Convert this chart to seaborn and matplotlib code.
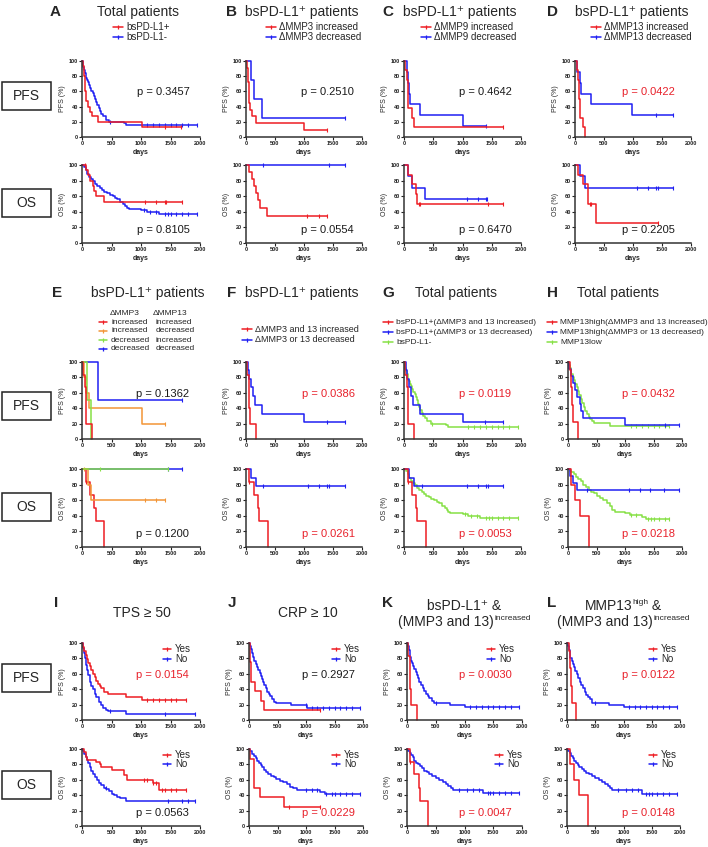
import numpy as np
import matplotlib.pyplot as plt
import seaborn as sns
from matplotlib.lines import Line2D
from matplotlib.patches import Rectangle

sns.set_theme(style="ticks")
plt.rcParams["font.family"] = ["Liberation Sans", "DejaVu Sans"]

W, H = 708, 847
RED, BLUE, ORANGE, GREEN = "#ee1d23", "#1f1ff2", "#f39536", "#86e045"
P_RED = "#e8212b"

# ──────────── KM data: step times (days), survival (%), censor times ────────────
# bsPD-L1+ / bsPD-L1- (total patients)
pos_pfs_t = [0, 20, 30, 40, 45, 50, 55, 60, 70, 100, 130, 165, 270, 1020, 1680]
pos_pfs_s = [100, 93, 87, 80, 73, 67, 60, 53, 47, 40, 33, 27, 20, 13, 13]
pos_pfs_c = [1400, 1680]
neg_pfs_t = [0, 10, 20, 30, 45, 60, 75, 90, 105, 120, 140, 160, 180, 200, 220, 240, 260, 280, 300, 330, 360, 400, 460, 720, 750, 1950]
neg_pfs_s = [100, 96, 92, 88, 84, 80, 77, 75, 72, 69, 65, 61, 58, 54, 50, 46, 42, 38, 34, 30, 27, 23, 20, 18, 16, 16]
neg_pfs_c = [480, 1100, 1200, 1300, 1400, 1500, 1600, 1700, 1800, 1950]
pos_os_t = [0, 60, 100, 140, 180, 205, 240, 370, 1690]
pos_os_s = [100, 93, 87, 80, 73, 67, 60, 52, 52]
pos_os_c = [50, 1060, 1260, 1400, 1420, 1690]
neg_os_t = [0, 30, 60, 90, 120, 150, 190, 220, 260, 300, 340, 380, 420, 470, 520, 560, 600, 650, 700, 730, 760, 790, 1000, 1100, 1300, 1950]
neg_os_s = [100, 97, 93, 89, 85, 82, 79, 76, 73, 71, 68, 66, 64, 62, 60, 58, 56, 53, 50, 47, 45, 43, 42, 40, 37, 37]
neg_os_c = [1050, 1150, 1250, 1400, 1450, 1500, 1600, 1700, 1800, 1950]

# ΔMMP3 (bsPD-L1+)
mmp3_inc_pfs_t = [0, 20, 30, 40, 45, 50, 55, 75, 105, 165, 1005, 1400]
mmp3_inc_pfs_s = [100, 91, 82, 73, 64, 55, 45, 36, 27, 18, 9, 9]
mmp3_inc_pfs_c = [1400]
mmp3_dec_pfs_t = [0, 80, 140, 280, 1700]
mmp3_dec_pfs_s = [100, 75, 50, 25, 25]
mmp3_dec_pfs_c = [1700]
mmp3_inc_os_t = [0, 55, 100, 140, 175, 215, 240, 370, 1400]
mmp3_inc_os_s = [100, 91, 82, 73, 64, 55, 45, 35, 35]
mmp3_inc_os_c = [1060, 1250, 1400]
mmp3_dec_os_t = [0, 1700]
mmp3_dec_os_s = [100, 100]
mmp3_dec_os_c = [300, 1430, 1700]

# ΔMMP9 (bsPD-L1+)
mmp9_inc_pfs_t = [0, 20, 45, 60, 75, 140, 165, 1690]
mmp9_inc_pfs_s = [100, 87.5, 75, 50, 37.5, 25, 12.5, 12.5]
mmp9_inc_pfs_c = [1690]
mmp9_dec_pfs_t = [0, 45, 60, 80, 110, 270, 1010, 1400]
mmp9_dec_pfs_s = [100, 86, 71, 57, 43, 29, 14, 14]
mmp9_dec_pfs_c = [1400]
mmp9_inc_os_t = [0, 70, 140, 200, 225, 1690]
mmp9_inc_os_s = [100, 87.5, 75, 62.5, 50, 50]
mmp9_inc_os_c = [250, 275, 1440, 1690]
mmp9_dec_os_t = [0, 70, 140, 365, 1420]
mmp9_dec_os_s = [100, 86, 71, 57, 57]
mmp9_dec_os_c = [1080, 1260, 1400, 1420]

# ΔMMP13 (bsPD-L1+)
mmp13_inc_pfs_t = [0, 30, 50, 65, 80, 145, 168]
mmp13_inc_pfs_s = [100, 87.5, 75, 50, 25, 12.5, 0]
mmp13_inc_pfs_c = []
mmp13_dec_pfs_t = [0, 35, 80, 112, 275, 990, 1690]
mmp13_dec_pfs_s = [100, 86, 71, 57, 43, 29, 29]
mmp13_dec_pfs_c = [1390, 1690]
mmp13_inc_os_t = [0, 50, 135, 225, 370, 1430]
mmp13_inc_os_s = [100, 87.5, 75, 50, 25, 25]
mmp13_inc_os_c = [250, 275, 1430]
mmp13_dec_os_t = [0, 90, 180, 1690]
mmp13_dec_os_s = [100, 86, 71, 71]
mmp13_dec_os_c = [1070, 1260, 1400, 1430, 1690]

# ΔMMP3 x ΔMMP13 combinations (bsPD-L1+)
both_inc_pfs_t = [0, 25, 45, 60, 72, 170]
both_inc_pfs_s = [100, 83, 67, 40, 20, 0]
both_inc_pfs_c = []
both_inc_os_t = [0, 60, 130, 210, 230, 372]
both_inc_os_s = [100, 83, 67, 50, 33, 0]
both_inc_os_c = [60]
inc_dec_pfs_t = [0, 40, 70, 120, 1010, 1400]
inc_dec_pfs_s = [100, 80, 60, 40, 20, 20]
inc_dec_pfs_c = [1400]
inc_dec_os_t = [0, 100, 160, 1400]
inc_dec_os_s = [100, 80, 60, 60]
inc_dec_os_c = [40, 1060, 1260, 1400]
dec_inc_pfs_t = [0, 80, 150]
dec_inc_pfs_s = [100, 50, 0]
dec_inc_pfs_c = []
dec_inc_os_t = [0, 1450]
dec_inc_os_s = [100, 100]
dec_inc_os_c = [300, 1450]
dec_dec_pfs_t = [0, 275, 1700]
dec_dec_pfs_s = [100, 50, 50]
dec_dec_pfs_c = [1700]
dec_dec_os_t = [0, 1700]
dec_dec_os_s = [100, 100]
dec_dec_os_c = [1450, 1700]
either_dec_pfs_t = [0, 30, 55, 85, 125, 155, 280, 1005, 1700]
either_dec_pfs_s = [100, 89, 78, 67, 56, 44, 33, 22, 22]
either_dec_pfs_c = [1390, 1700]
either_dec_os_t = [0, 85, 170, 1700]
either_dec_os_s = [100, 89, 78, 78]
either_dec_os_c = [300, 1070, 1260, 1400, 1430, 1700]

# MMP13 high / low (total patients)
hi_inc_pfs_t = [0, 35, 55, 75, 85, 167]
hi_inc_pfs_s = [100, 89, 67, 44, 22, 0]
hi_inc_pfs_c = []
hi_inc_os_t = [0, 55, 130, 215, 375]
hi_inc_os_s = [100, 80, 60, 40, 0]
hi_inc_os_c = []
hi_dec_pfs_t = [0, 25, 50, 80, 125, 165, 210, 230, 270, 1005, 1950]
hi_dec_pfs_s = [100, 91, 82, 73, 64, 55, 45, 36, 27, 18, 18]
hi_dec_pfs_c = [1700, 1950]
hi_dec_os_t = [0, 40, 85, 165, 1950]
hi_dec_os_s = [100, 91, 82, 73, 73]
hi_dec_os_c = [330, 1070, 1260, 1430, 1690, 1950]
low_pfs_t = [0, 15, 30, 45, 60, 80, 100, 125, 150, 175, 200, 225, 250, 275, 300, 330, 360, 390, 420, 460, 740, 1780]
low_pfs_s = [100, 96, 92, 88, 84, 80, 76, 72, 67, 62, 57, 52, 47, 42, 37, 33, 29, 26, 23, 21, 17, 17]
low_pfs_c = [1100, 1200, 1300, 1400, 1500, 1600, 1700, 1780]
low_os_t = [0, 30, 60, 100, 140, 180, 220, 270, 320, 360, 400, 450, 500, 560, 620, 680, 730, 780, 830, 1000, 1080, 1300, 1360, 1780]
low_os_s = [100, 98, 96, 93, 90, 87, 84, 80, 77, 73, 71, 69, 66, 63, 60, 57, 53, 48, 45, 43, 41, 38, 36, 36]
low_os_c = [1100, 1200, 1400, 1450, 1500, 1600, 1700, 1780]

# TPS >= 50
tps_yes_pfs_t = [0, 20, 40, 60, 80, 105, 130, 160, 190, 215, 245, 270, 300, 330, 380, 440, 740, 1010, 1760]
tps_yes_pfs_s = [100, 95, 89, 84, 79, 74, 70, 65, 60, 56, 51, 47, 44, 41, 37, 34, 30, 26, 26]
tps_yes_pfs_c = [1100, 1200, 1300, 1400, 1500, 1600, 1760]
tps_no_pfs_t = [0, 15, 30, 45, 60, 80, 100, 130, 160, 190, 215, 240, 280, 330, 360, 400, 440, 740, 1910]
tps_no_pfs_s = [100, 94, 87, 80, 72, 65, 58, 50, 44, 40, 34, 30, 24, 20, 16, 13, 12, 8, 8]
tps_no_pfs_c = [470, 1400, 1910]
tps_yes_os_t = [0, 30, 60, 80, 240, 300, 330, 500, 720, 760, 1200, 1310, 1760]
tps_yes_os_s = [100, 96, 89, 86, 83, 80, 77, 73, 66, 60, 56, 47, 47]
tps_yes_os_c = [1050, 1100, 1200, 1250, 1350, 1400, 1500, 1600, 1760]
tps_no_os_t = [0, 20, 40, 60, 80, 100, 130, 160, 190, 215, 250, 290, 330, 370, 410, 460, 510, 550, 590, 650, 740, 1910]
tps_no_os_s = [100, 97, 93, 89, 86, 82, 77, 72, 68, 64, 60, 56, 53, 50, 48, 45, 42, 40, 38, 36, 33, 33]
tps_no_os_c = [400, 1450, 1700, 1800, 1910]

# CRP >= 10
crp_yes_pfs_t = [0, 10, 25, 40, 110, 210, 270, 1240]
crp_yes_pfs_s = [100, 87.5, 75, 50, 37.5, 25, 12.5, 12.5]
crp_yes_pfs_c = [1240]
crp_no_pfs_t = [0, 15, 30, 50, 70, 95, 120, 140, 165, 190, 210, 230, 250, 270, 295, 320, 345, 370, 400, 430, 470, 740, 1010, 1950]
crp_no_pfs_s = [100, 96, 92, 87, 82, 77, 73, 69, 65, 61, 57, 53, 49, 45, 41, 37, 34, 31, 27, 24, 22, 19, 16, 16]
crp_no_pfs_c = [1000, 1100, 1200, 1300, 1400, 1500, 1600, 1700, 1800, 1950]
crp_yes_os_t = [0, 20, 85, 190, 610, 1250]
crp_yes_os_s = [100, 87.5, 50, 37.5, 25, 25]
crp_yes_os_c = [700, 1250]
crp_no_os_t = [0, 25, 55, 85, 115, 145, 175, 205, 235, 265, 300, 340, 380, 430, 480, 540, 600, 660, 720, 780, 850, 1250, 1330, 1950]
crp_no_os_s = [100, 97, 94, 91, 88, 85, 82, 79, 76, 73, 70, 67, 65, 63, 61, 59, 57, 54, 51, 49, 47, 44, 42, 42]
crp_no_os_c = [1000, 1100, 1200, 1350, 1450, 1500, 1600, 1700, 1800, 1950]

# bsPD-L1+ & (MMP3 and 13) increased : No
k_no_pfs_t = [0, 15, 30, 45, 60, 75, 90, 110, 130, 150, 170, 190, 215, 240, 270, 300, 330, 360, 390, 430, 470, 740, 1010, 1950]
k_no_pfs_s = [100, 96, 91, 87, 82, 77, 74, 70, 66, 62, 58, 54, 50, 46, 42, 38, 34, 31, 28, 25, 22, 19, 17, 17]
k_no_pfs_c = [500, 1100, 1200, 1300, 1400, 1500, 1600, 1700, 1800, 1950]
k_no_os_t = [0, 20, 45, 75, 100, 130, 160, 190, 220, 260, 300, 340, 390, 440, 500, 560, 620, 680, 720, 760, 800, 1320, 1950]
k_no_os_s = [100, 98, 95, 92, 89, 85, 82, 80, 78, 75, 72, 70, 67, 65, 62, 60, 57, 54, 52, 50, 47, 43, 43]
k_no_os_c = [900, 1050, 1150, 1250, 1400, 1450, 1500, 1600, 1700, 1800, 1950]

# MMP13high & (MMP3 and 13) increased : No
l_no_pfs_t = [0, 15, 30, 45, 60, 80, 100, 125, 150, 175, 200, 225, 250, 280, 310, 340, 370, 400, 450, 740, 1010, 1950]
l_no_pfs_s = [100, 96, 91, 86, 81, 77, 73, 69, 64, 60, 55, 50, 46, 41, 37, 33, 30, 27, 22, 20, 17, 17]
l_no_pfs_c = [500, 1100, 1200, 1300, 1400, 1500, 1600, 1700, 1800, 1950]
l_no_os_t = [0, 20, 45, 75, 100, 130, 160, 190, 220, 260, 300, 340, 390, 440, 500, 560, 620, 680, 720, 760, 800, 1320, 1950]
l_no_os_s = [100, 98, 95, 91, 88, 85, 82, 79, 77, 74, 72, 69, 67, 65, 62, 60, 57, 54, 52, 49, 47, 42, 42]
l_no_os_c = [900, 1050, 1150, 1250, 1400, 1450, 1500, 1600, 1700, 1800, 1950]


def km(name):
    g = globals()
    return g[name + "_t"], g[name + "_s"], g[name + "_c"]


# ──────────── layout (pixels of the 708x847 canvas) ────────────
ROWS = {1: (61, 76, 165, 78), 2: (362, 77, 469, 78), 3: (643, 77, 749, 77)}
BOXES = {1: (82, 189), 2: (392, 493), 3: (664, 771)}

PANELS = [
    dict(L="A", row=1, x0=82, w=118, lx=55, title="Total patients", tx=138,
         pfs=[("neg_pfs", BLUE), ("pos_pfs", RED)], os=[("neg_os", BLUE), ("pos_os", RED)],
         p=(("p = 0.3457", "k"), ("p = 0.8105", "k")), px=137,
         leg=dict(x=113, ys=[27, 37], fs=7, items=[("bsPD-L1+", RED), ("bsPD-L1-", BLUE)])),
    dict(L="B", row=1, x0=246, w=116, lx=232, title="bsPD-L1⁺ patients", tx=302,
         pfs=[("mmp3_dec_pfs", BLUE), ("mmp3_inc_pfs", RED)], os=[("mmp3_dec_os", BLUE), ("mmp3_inc_os", RED)],
         p=(("p = 0.2510", "k"), ("p = 0.0554", "k")), px=301,
         leg=dict(x=266, ys=[27, 37], fs=7, items=[("ΔMMP3 increased", RED), ("ΔMMP3 decreased", BLUE)])),
    dict(L="C", row=1, x0=404, w=117, lx=388, title="bsPD-L1⁺ patients", tx=460,
         pfs=[("mmp9_dec_pfs", BLUE), ("mmp9_inc_pfs", RED)], os=[("mmp9_dec_os", BLUE), ("mmp9_inc_os", RED)],
         p=(("p = 0.4642", "k"), ("p = 0.6470", "k")), px=459,
         leg=dict(x=421, ys=[27, 37], fs=7, items=[("ΔMMP9 increased", RED), ("ΔMMP9 decreased", BLUE)])),
    dict(L="D", row=1, x0=575, w=116, lx=552, title="bsPD-L1⁺ patients", tx=632,
         pfs=[("mmp13_dec_pfs", BLUE), ("mmp13_inc_pfs", RED)], os=[("mmp13_dec_os", BLUE), ("mmp13_inc_os", RED)],
         p=(("p = 0.0422", P_RED), ("p = 0.2205", "k")), px=622,
         leg=dict(x=591, ys=[27, 37], fs=7, items=[("ΔMMP13 increased", RED), ("ΔMMP13 decreased", BLUE)])),
    dict(L="E", row=2, x0=82, w=118, lx=57, title="bsPD-L1⁺ patients", tx=148,
         pfs=[("dec_dec_pfs", BLUE), ("inc_dec_pfs", ORANGE), ("dec_inc_pfs", GREEN), ("both_inc_pfs", RED)],
         os=[("dec_dec_os", BLUE), ("both_inc_os", RED), ("inc_dec_os", ORANGE), ("dec_inc_os", GREEN)],
         p=(("p = 0.1362", "k"), ("p = 0.1200", "k")), px=136, leg=None),
    dict(L="F", row=2, x0=246, w=116, lx=232, title="bsPD-L1⁺ patients", tx=302,
         pfs=[("either_dec_pfs", BLUE), ("both_inc_pfs", RED)], os=[("either_dec_os", BLUE), ("both_inc_os", RED)],
         p=(("p = 0.0386", P_RED), ("p = 0.0261", P_RED)), px=302,
         leg=dict(x=242, ys=[329, 340], fs=6.5, items=[("ΔMMP3 and 13 increased", RED), ("ΔMMP3 or 13 decreased", BLUE)])),
    dict(L="G", row=2, x0=404, w=117, lx=388, title="Total patients", tx=456,
         pfs=[("neg_pfs", GREEN), ("either_dec_pfs", BLUE), ("both_inc_pfs", RED)],
         os=[("neg_os", GREEN), ("either_dec_os", BLUE), ("both_inc_os", RED)],
         p=(("p = 0.0119", P_RED), ("p = 0.0053", P_RED)), px=459,
         leg=dict(x=383, ys=[322, 332, 342], fs=6, items=[("bsPD-L1+(ΔMMP3 and 13 increased)", RED),
                                                           ("bsPD-L1+(ΔMMP3 or 13 decreased)", BLUE), ("bsPD-L1-", GREEN)])),
    dict(L="H", row=2, x0=568, w=114, lx=552, title="Total patients", tx=618,
         pfs=[("low_pfs", GREEN), ("hi_dec_pfs", BLUE), ("hi_inc_pfs", RED)],
         os=[("low_os", GREEN), ("hi_dec_os", BLUE), ("hi_inc_os", RED)],
         p=(("p = 0.0432", P_RED), ("p = 0.0218", P_RED)), px=622,
         leg=dict(x=547, ys=[322, 332, 342], fs=6, items=[("MMP13high(ΔMMP3 and 13 increased)", RED),
                                                           ("MMP13high(ΔMMP3 or 13 decreased)", BLUE), ("MMP13low", GREEN)])),
    dict(L="I", row=3, x0=82, w=118, lx=56, title=[[("TPS ≥ 50", 0)]], tx=142,
         pfs=[("tps_no_pfs", BLUE), ("tps_yes_pfs", RED)], os=[("tps_no_os", BLUE), ("tps_yes_os", RED)],
         p=(("p = 0.0154", P_RED), ("p = 0.0563", "k")), px=136, yn=(163, 163)),
    dict(L="J", row=3, x0=249, w=114, lx=232, title=[[("CRP ≥ 10", 0)]], tx=308,
         pfs=[("crp_no_pfs", BLUE), ("crp_yes_pfs", RED)], os=[("crp_no_os", BLUE), ("crp_yes_os", RED)],
         p=(("p = 0.2927", "k"), ("p = 0.0229", P_RED)), px=302, yn=(332, 332)),
    dict(L="K", row=3, x0=407, w=115, lx=388, tx=464,
         title=[[("bsPD-L1⁺ &", 0)], [("(MMP3 and 13)", 0), ("increased", 1)]],
         pfs=[("k_no_pfs", BLUE), ("both_inc_pfs", RED)], os=[("k_no_os", BLUE), ("both_inc_os", RED)],
         p=(("p = 0.0030", P_RED), ("p = 0.0047", P_RED)), px=459, yn=(487, 495)),
    dict(L="L", row=3, x0=567, w=113, lx=552, tx=623,
         title=[[("MMP13", 0), ("high", 1), (" &", 0)], [("(MMP3 and 13)", 0), ("increased", 1)]],
         pfs=[("l_no_pfs", BLUE), ("hi_inc_pfs", RED)], os=[("l_no_os", BLUE), ("hi_inc_os", RED)],
         p=(("p = 0.0122", P_RED), ("p = 0.0148", P_RED)), px=622, yn=(649, 649)),
]

fig = plt.figure(figsize=(W / 100, H / 100), dpi=100)
renderer = fig.canvas.get_renderer()


def fxy(x, y):
    return x / W, 1 - y / H


def ftext(x, y, s, **kw):
    return fig.text(*fxy(x, y), s, **kw)


def sup_line(cx, base, parts, fs=10, sfs=6):
    # one centred title line made of normal and raised (superscript) pieces
    objs = [ftext(0, base, s, fontsize=sfs if sup else fs, va="baseline") for s, sup in parts]
    widths = [o.get_window_extent(renderer).width for o in objs]
    x = cx - sum(widths) / 2
    for o, (s, sup), wd in zip(objs, parts, widths):
        o.set_position(fxy(x + (0.5 if sup else 0), base - (6 if sup else 0)))
        x += wd


def handle(x, y, color, length=10):
    (x1, yy), (x2, _) = fxy(x, y), fxy(x + length, y)
    fig.add_artist(Line2D([x1, x2], [yy, yy], color=color, lw=1.1, transform=fig.transFigure))
    fig.add_artist(Line2D([(x1 + x2) / 2], [yy], color=color, marker="|", ms=3.5, mew=0.9,
                          ls="none", transform=fig.transFigure))


def draw_km(ax, name, color):
    t, s, c = km(name)
    sns.lineplot(x=t, y=s, ax=ax, color=color, linewidth=1.1, drawstyle="steps-post",
                 estimator=None, sort=False, legend=False, clip_on=False)
    if c:
        idx = np.searchsorted(t, c, side="right") - 1
        ax.plot(c, np.asarray(s, float)[idx], ls="none", marker="|", ms=3.2, mew=0.8,
                color=color, clip_on=False)


def style_ax(ax, kind):
    ax.set_xlim(0, 2000)
    ax.set_ylim(0, 100)
    ax.set_xticks([0, 500, 1000, 1500, 2000])
    ax.set_yticks([0, 20, 40, 60, 80, 100])
    ax.set_facecolor("none")
    sns.despine(ax=ax)
    for sp in ("left", "bottom"):
        ax.spines[sp].set_linewidth(1.1)
        ax.spines[sp].set_color("#333333")
    ax.tick_params(length=2, width=0.8, labelsize=4, pad=1, colors="#222222")
    ax.set_xlabel("days", fontsize=5, fontweight="bold", labelpad=2)
    ax.set_ylabel(f"{kind} (%)", fontsize=5, labelpad=2)
    for lb in ax.get_xticklabels() + ax.get_yticklabels():
        lb.set_fontweight("bold")


# ──────────── PFS / OS boxes ────────────
for row, (yp, yo) in BOXES.items():
    for y0, lab in ((yp, "PFS"), (yo, "OS")):
        x1, y1 = fxy(2, y0 + 28)
        fig.add_artist(Rectangle((x1, y1), 49 / W, 28 / H, transform=fig.transFigure,
                                 fill=False, lw=1.1, ec="#222222"))
        ftext(26.5, y0 + 14, lab, fontsize=10, ha="center", va="center")

# ──────────── panels ────────────
for pn in PANELS:
    yp, hp, yo, ho = ROWS[pn["row"]]
    ax_p = fig.add_axes([pn["x0"] / W, 1 - (yp + hp) / H, pn["w"] / W, hp / H])
    ax_o = fig.add_axes([pn["x0"] / W, 1 - (yo + ho) / H, pn["w"] / W, ho / H])
    for name, col in pn["pfs"]:
        draw_km(ax_p, name, col)
    for name, col in pn["os"]:
        draw_km(ax_o, name, col)
    style_ax(ax_p, "PFS")
    style_ax(ax_o, "OS")

    ly = {1: 12, 2: 293, 3: 603}[pn["row"]]
    ftext(pn["lx"], ly, pn["L"], fontsize=11, fontweight="bold", ha="center", va="center")
    if isinstance(pn["title"], str):
        ftext(pn["tx"], ly, pn["title"], fontsize=10, ha="center", va="center")
    elif len(pn["title"]) == 1:
        sup_line(pn["tx"], 617, pn["title"][0])
    else:
        sup_line(pn["tx"], 610, pn["title"][0])
        sup_line(pn["tx"], 626, pn["title"][1])

    (pp, pc), (po, oc) = pn["p"]
    ftext(pn["px"], yp + 0.41 * hp, pp, fontsize=8, color=pc, va="center")
    ftext(pn["px"], yo + 0.83 * ho, po, fontsize=8, color=oc, va="center")

    lg = pn.get("leg")
    if lg:
        for (lab, col), y in zip(lg["items"], lg["ys"]):
            handle(lg["x"], y, col)
            ftext(lg["x"] + 13, y, lab, fontsize=lg["fs"], va="center")
    if "yn" in pn:
        for hx, ys in zip(pn["yn"], ((yp + 6, yp + 16), (yo + 6, yo + 15))):
            for (lab, col), y in zip((("Yes", RED), ("No", BLUE)), ys):
                handle(hx, y, col, length=8)
                ftext(hx + 12, y, lab, fontsize=7, va="center")

# ──────────── legend of panel E (two-column header) ────────────
ftext(125, 313, "ΔMMP3", fontsize=6, ha="center", va="center")
ftext(170, 313, "ΔMMP13", fontsize=6, ha="center", va="center")
E_LEG = [("increased", "increased", RED), ("increased", "decreased", ORANGE),
         ("decreased", "increased", GREEN), ("decreased", "decreased", BLUE)]
for (a, b, col), y in zip(E_LEG, [322, 331, 340, 349]):
    handle(99, y, col, length=8)
    ftext(111, y, a, fontsize=6, va="center")
    ftext(156, y, b, fontsize=6, va="center")

fig.savefig("out.png", dpi=100)
